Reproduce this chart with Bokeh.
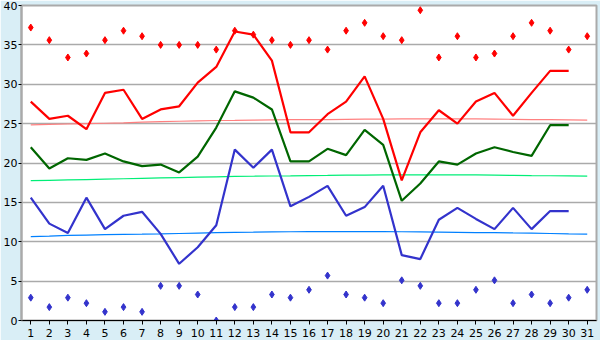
from bokeh.plotting import figure
from bokeh.models import Range1d, FixedTicker
from bokeh.embed import file_html
from bokeh.resources import INLINE

days = list(range(1, 32))
tmax = [27.8, 25.6, 26.0, 24.3, 28.9, 29.3, 25.6, 26.8, 27.2, 30.2,
        32.2, 36.7, 36.3, 33.0, 23.9, 23.9, 26.2, 27.8, 31.0, 25.6,
        17.8, 23.9, 26.7, 25.0, 27.8, 28.9, 26.0, 28.9, 31.7, 31.7, None]
tmean = [22.0, 19.3, 20.6, 20.4, 21.2, 20.2, 19.6, 19.8, 18.8, 20.8,
         24.5, 29.1, 28.3, 26.8, 20.2, 20.2, 21.8, 21.0, 24.2, 22.3,
         15.2, 17.4, 20.2, 19.8, 21.2, 22.0, 21.4, 20.9, 24.8, 24.8, None]
tmin = [15.6, 12.3, 11.1, 15.6, 11.6, 13.3, 13.8, 11.0, 7.2, 9.3,
        12.1, 21.7, 19.4, 21.7, 14.5, 15.7, 17.1, 13.3, 14.4, 17.1,
        8.3, 7.8, 12.8, 14.3, 12.9, 11.6, 14.3, 11.6, 13.9, 13.9, None]
rec_high = [37.2, 35.6, 33.4, 33.9, 35.6, 36.8, 36.1, 35.0, 35.0, 35.0,
            34.4, 36.8, 36.3, 35.6, 35.0, 35.6, 34.4, 36.8, 37.8, 36.1,
            35.6, 39.4, 33.4, 36.1, 33.4, 33.9, 36.1, 37.8, 36.8, 34.4, 36.1]
rec_low = [2.9, 1.7, 2.9, 2.2, 1.1, 1.7, 1.1, 4.4, 4.4, 3.3,
           0.0, 1.7, 1.7, 3.3, 2.9, 3.9, 5.7, 3.3, 2.9, 2.2,
           5.1, 4.4, 2.2, 2.2, 3.9, 5.1, 2.2, 3.3, 2.2, 2.9, 3.9]
norm_max = [24.85, 24.9, 24.95, 25.0, 25.05, 25.1, 25.2, 25.25, 25.3, 25.35,
            25.4, 25.42, 25.45, 25.47, 25.5, 25.5, 25.52, 25.55, 25.57, 25.58,
            25.6, 25.6, 25.6, 25.6, 25.6, 25.58, 25.55, 25.52, 25.5, 25.48, 25.45]
norm_mean = [17.75, 17.8, 17.85, 17.9, 17.95, 18.0, 18.05, 18.1, 18.15, 18.2,
             18.25, 18.3, 18.32, 18.35, 18.37, 18.4, 18.42, 18.45, 18.47, 18.5,
             18.5, 18.5, 18.5, 18.5, 18.48, 18.45, 18.43, 18.4, 18.38, 18.36, 18.34]
norm_min = [10.65, 10.72, 10.8, 10.85, 10.9, 10.93, 10.96, 11.0, 11.05, 11.1,
            11.15, 11.2, 11.22, 11.25, 11.27, 11.28, 11.28, 11.28, 11.28, 11.28,
            11.27, 11.25, 11.22, 11.2, 11.17, 11.15, 11.12, 11.1, 11.05, 11.0, 10.97]
y_ticks = [0, 5, 10, 15, 20, 25, 30, 35, 40]

def clean(xs, ys):
    pts = [(x, y) for x, y in zip(xs, ys) if y is not None]
    return [p[0] for p in pts], [p[1] for p in pts]

p = figure(width=600, height=340, output_backend="svg", toolbar_location=None,
           x_range=Range1d(0.5, 31.5), y_range=Range1d(0, 40),
           frame_width=575, frame_height=315,
           min_border_left=20, min_border_right=5, min_border_top=5, min_border_bottom=20)
p.background_fill_color = "white"
p.border_fill_color = "#d9eef6"
p.outline_line_color = "#aaaaaa"
p.outline_line_width = 2

p.xaxis.ticker = FixedTicker(ticks=days)
p.yaxis.ticker = FixedTicker(ticks=y_ticks)
for ax in (p.xaxis, p.yaxis):
    ax.major_label_text_font = "DejaVu Sans"
    ax.major_label_text_font_size = "11px"
    ax.major_label_text_color = "black"
    ax.minor_tick_line_color = None
    ax.major_tick_in = 0
    ax.major_tick_line_color = "black"
    ax.major_tick_line_width = 1
p.xaxis.major_tick_out = 4
p.xaxis.major_label_standoff = 4
p.yaxis.major_tick_out = 3
p.yaxis.major_label_standoff = 1
p.xaxis.axis_line_color = "black"
p.yaxis.axis_line_color = "#aaaaaa"
p.yaxis.axis_line_width = 2

p.xgrid.grid_line_color = None
p.ygrid.grid_line_color = "#aaaaaa"
p.ygrid.grid_line_width = 1.5

p.line(days, norm_max, color="#ff8080", line_width=1.2)
p.line(days, norm_mean, color="#00ee77", line_width=1.2)
p.line(days, norm_min, color="#0080ff", line_width=1.2)

x, y = clean(days, tmax)
p.line(x, y, color="#ff0000", line_width=2.2)
x, y = clean(days, tmean)
p.line(x, y, color="#006600", line_width=2.2)
x, y = clean(days, tmin)
p.line(x, y, color="#3333cc", line_width=2.2)

p.scatter(days, rec_high, marker="diamond", size=7, color="#ff0000")
p.scatter(days, rec_low, marker="diamond", size=7, color="#3333cc")

open("out.html", "w").write(file_html(p, INLINE))
